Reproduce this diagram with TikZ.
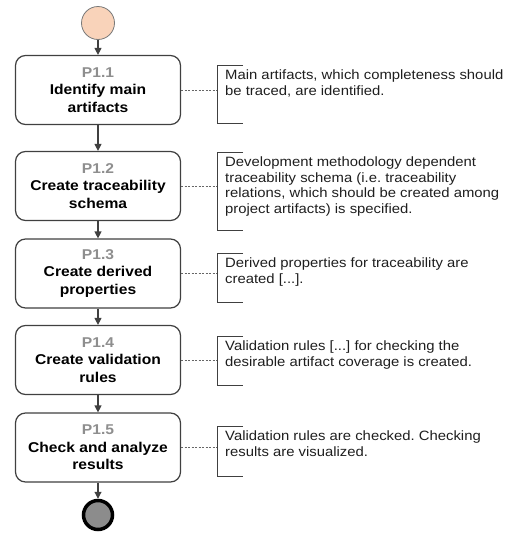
\documentclass[tikz,border=0pt]{standalone}
\usepackage{fontspec}
\setmainfont{Liberation Sans}
\newfontfamily\notefont[FakeStretch=1.1]{Liberation Sans}
\newfontfamily\boxfont[FakeStretch=1.1]{Liberation Sans}
\usetikzlibrary{arrows.meta}
\frenchspacing

\definecolor{boxline}{HTML}{404040}
\definecolor{startfill}{HTML}{F9D3BA}
\definecolor{endfill}{HTML}{8C8C8C}
\definecolor{pidgray}{HTML}{8E8E8E}
\definecolor{notecol}{HTML}{1E1E1E}

\newcommand{\pid}[1]{\textcolor{pidgray}{#1}}

\begin{document}
\begin{tikzpicture}[x=1pt, y=-1pt,
  procbox/.style={draw=boxline, line width=1.2pt, rounded corners=10pt, fill=white,
    minimum width=165pt, minimum height=69pt, inner sep=0pt, align=center,
    font=\boxfont\fontsize{14.2}{17.5}\selectfont\bfseries},
  notetext/.style={anchor=north west, align=left, inner xsep=8pt, inner ysep=5pt,
    font=\notefont\fontsize{13.5}{15.4}\selectfont, text=notecol},
  bracket/.style={draw=boxline, line width=0.9pt},
  flow/.style={draw=boxline, line width=1.2pt, -{Triangle[length=7pt,width=7pt]}},
  link/.style={draw=boxline!80, dash pattern=on 2pt off 1.5pt, line width=0.8pt}]
\useasboundingbox (0,0) rectangle (513,533);

% start and end
\node (start) [circle, draw=boxline!70, line width=0.8pt, fill=startfill, minimum size=33pt] at (98,23) {};
\node (stop) [circle, draw=black, line width=3.5pt, fill=endfill, minimum size=29pt] at (98,515) {};

% process steps
\node (p11) [procbox] at (98,90) {\pid{P1.1}\\Identify main\\artifacts};
\node (p12) [procbox] at (98,186) {\pid{P1.2}\\Create traceability\\schema};
\node (p13) [procbox] at (98,273.5) {\pid{P1.3}\\Create derived\\properties};
\node (p14) [procbox] at (98,360) {\pid{P1.4}\\Create validation\\rules};
\node (p15) [procbox] at (98,447.5) {\pid{P1.5}\\Check and analyze\\results};

\draw[flow] (start) -- (p11);
\draw[flow] (p11) -- (p12);
\draw[flow] (p12) -- (p13);
\draw[flow] (p13) -- (p14);
\draw[flow] (p14) -- (p15);
\draw[flow] (p15) -- (stop);

% notes
\node (n1) [notetext] at (217,65) {Main artifacts, which completeness should\\be traced, are identified.};
\node (n2) [notetext] at (217,152) {Development methodology dependent\\traceability schema (i.e. traceability\\relations, which should be created among\\project artifacts) is specified.};
\node (n3) [notetext] at (217,253) {Derived properties for traceability are\\created [...].};
\node (n4) [notetext] at (217,336) {Validation rules [...] for checking the\\desirable artifact coverage is created.};
\node (n5) [notetext] at (217,426) {Validation rules are checked. Checking\\results are visualized.};

\draw[bracket] (n1.north west) ++(26,0) -- (n1.north west) -- ++(0,58) -- ++(26,0);
\draw[bracket] (n2.north west) ++(26,0) -- (n2.north west) -- ++(0,78) -- ++(26,0);
\draw[bracket] (n3.north west) ++(26,0) -- (n3.north west) -- ++(0,49) -- ++(26,0);
\draw[bracket] (n4.north west) ++(26,0) -- (n4.north west) -- ++(0,49) -- ++(26,0);
\draw[bracket] (n5.north west) ++(26,0) -- (n5.north west) -- ++(0,50) -- ++(26,0);

\draw[link] (p11.east) -- (p11.east -| n1.west);
\draw[link] (p12.east) -- (p12.east -| n2.west);
\draw[link] (p13.east) -- (p13.east -| n3.west);
\draw[link] (p14.east) -- (p14.east -| n4.west);
\draw[link] (p15.east) -- (p15.east -| n5.west);
\end{tikzpicture}
\end{document}
